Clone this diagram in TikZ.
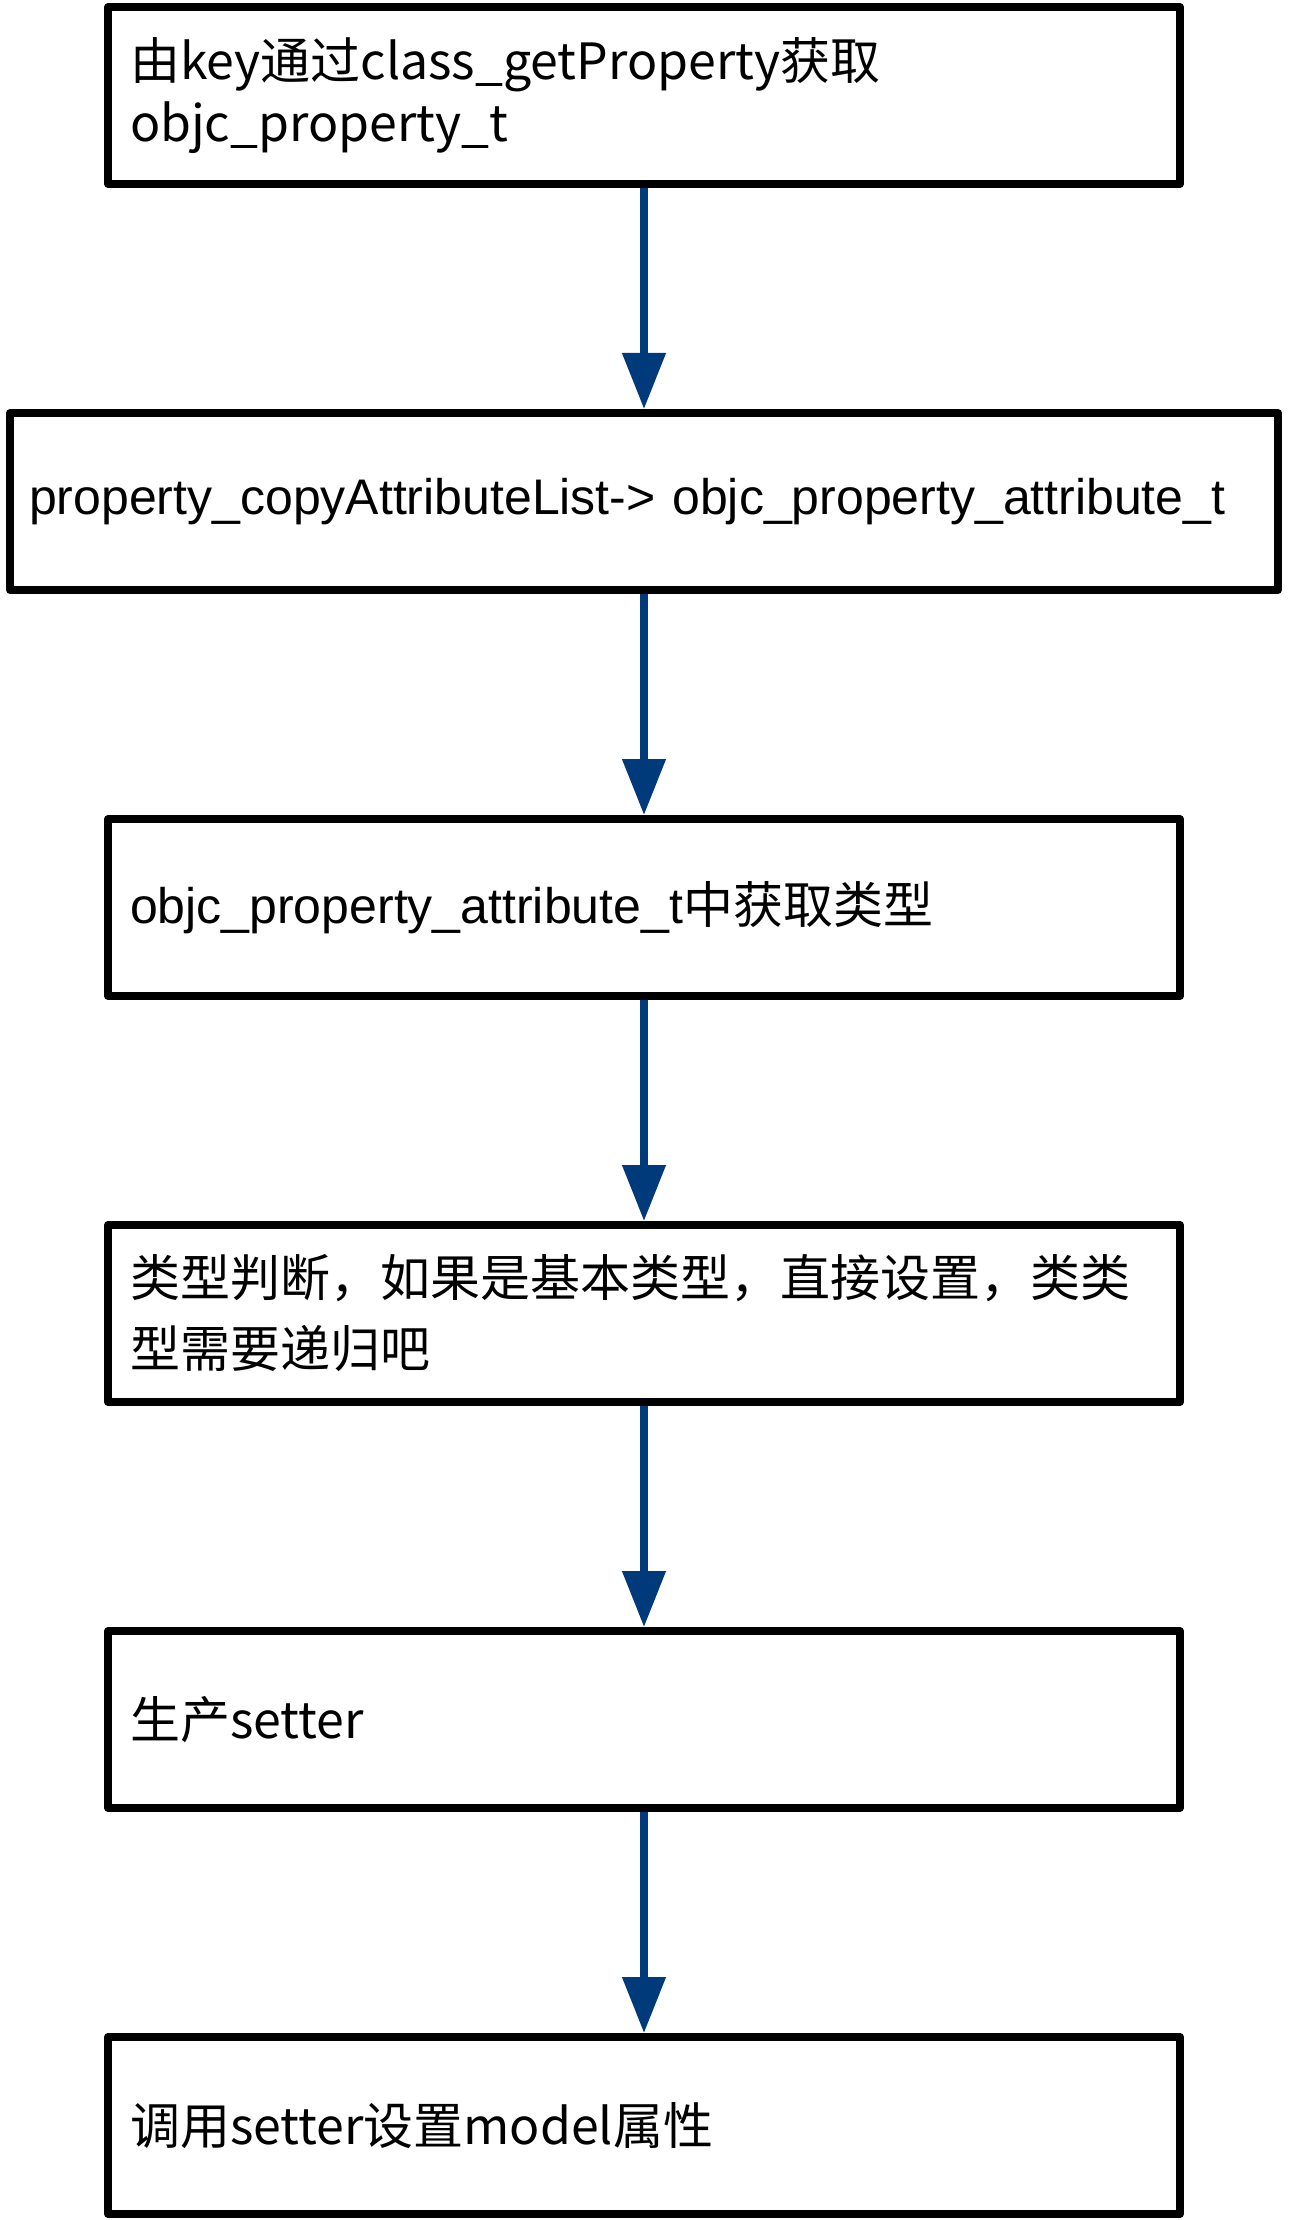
\documentclass[tikz,border=0pt]{standalone}
\usepackage{fontspec}
\setmainfont{Liberation Sans}
\newfontfamily\cjk{Noto Sans CJK SC}
\usepackage{tikz}
\usetikzlibrary{positioning,arrows.meta}
\definecolor{flowblue}{RGB}{0,58,122}
\def\mboxwidth{536pt}
\def\mwidewidth{634pt}
\def\mboxheight{88.5pt}
\def\mgap{110.5pt}
\def\marrowcolor{flowblue}
\tikzset{
	stepbox/.style={draw=black, line width=4pt, line join=round, rectangle, minimum width=\mboxwidth, minimum height=\mboxheight, inner xsep=11pt, text width=514pt, align=left, font=\fontsize{25}{31}\selectfont},
	widebox/.style={stepbox, minimum width=\mwidewidth, inner xsep=9.5pt, text width=615pt},
	flowarrow/.style={draw=\marrowcolor, line width=3.85pt, -{Triangle[length=28pt,width=21pt]}}
}

\begin{document}
\begin{tikzpicture}[node distance=\mgap]
		\useasboundingbox (0,0) rectangle (645.5pt,-1110pt);
		\node[stepbox] (getprop) at (322pt,-47.75pt) {\cjk{由}key\cjk{通过}class\_getProperty\cjk{获取}\\objc\_property\_t};
		\node[widebox, below=of getprop] (copyattr) {property\_copyAttributeList-> objc\_property\_attribute\_t};
		\node[stepbox, below=of copyattr] (gettype) {objc\_property\_attribute\_t\cjk{中获取类型}};
		\node[stepbox, below=of gettype, font=\fontsize{25}{35.5}\selectfont] (judge) {\cjk{类型判断，如果是基本类型，直接设置，类类}\\\cjk{型需要递归吧}};
		\node[stepbox, below=of judge] (setter) {\cjk{生产}setter};
		\node[stepbox, below=of setter] (callset) {\cjk{调用}setter\cjk{设置}model\cjk{属性}};
		% arrows between the steps
		\draw[flowarrow] (getprop.south) -- (copyattr.north);
		\draw[flowarrow] (copyattr.south) -- (gettype.north);
		\draw[flowarrow] (gettype.south) -- (judge.north);
		\draw[flowarrow] (judge.south) -- (setter.north);
		\draw[flowarrow] (setter.south) -- (callset.north);
	\end{tikzpicture}
\end{document}
